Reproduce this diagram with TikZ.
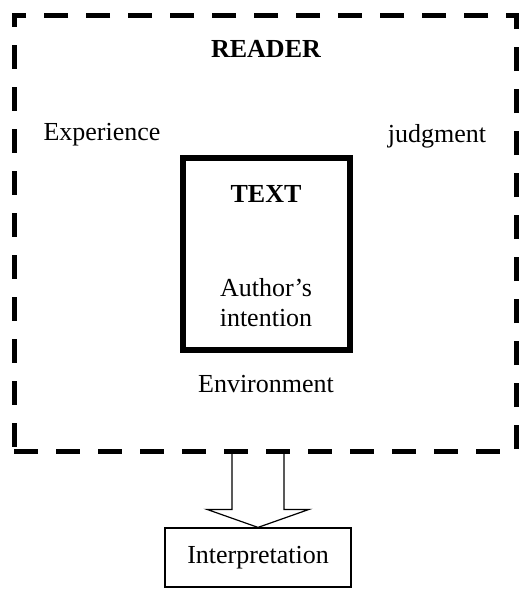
\documentclass[tikz,border=0pt]{standalone}
\usepackage{fontspec}
\setmainfont{Liberation Serif}
\usetikzlibrary{positioning, calc}

\begin{document}
\begin{tikzpicture}[x=1pt, y=-1pt,
			lbl/.style={font=\fontsize{26}{30}\selectfont, inner sep=0pt, anchor=base},
			readerbox/.style={draw, line width=5pt, dash pattern=on 24pt off 18pt, inner sep=0pt},
			textbox/.style={draw, line width=6pt, inner sep=0pt},
			resultbox/.style={draw, line width=1.2pt, inner sep=0pt},
			blockarrow/.style={draw, line width=1.2pt}]

			\useasboundingbox (0,0) rectangle (520,600);

			% reader frame and its words
			\node[readerbox, minimum width=502pt, minimum height=436pt] (reader) at (265,233) {};
			\node[lbl, font=\fontsize{26}{30}\selectfont\bfseries] (readertitle) at (266,57) {READER};
			\node[lbl] (experience) at (102,140) {Experience};
			\node[lbl] (judgment) at (437,142) {judgment};

			% the text itself
			\node[textbox, minimum width=167pt, minimum height=192pt] (text) at (266.5,254) {};
			\node[lbl, font=\fontsize{26}{30}\selectfont\bfseries] (texttitle) at (266,202) {TEXT};
			\node[lbl, align=center, anchor=north] (intention) at (266,278) {Author's\\intention};
			\node[lbl] (environment) at (266,392) {Environment};

			% result
			\node[resultbox, minimum width=186pt, minimum height=59pt] (interp) at (258,557.5) {};
			\node[lbl, anchor=center] (interptext) at (interp.center) {Interpretation};

			% block arrow from reader to interpretation
			\coordinate (top) at (reader.south -| interp.north);
			\coordinate (tip) at (interp.north);
			\draw[blockarrow] ($(top)+(-26,0)$) -- ($(tip)+(-26,-18)$) -- ($(tip)+(-51,-18)$)
				-- (tip) -- ($(tip)+(51,-18)$) -- ($(tip)+(26,-18)$) -- ($(top)+(26,0)$);
		\end{tikzpicture}
\end{document}
